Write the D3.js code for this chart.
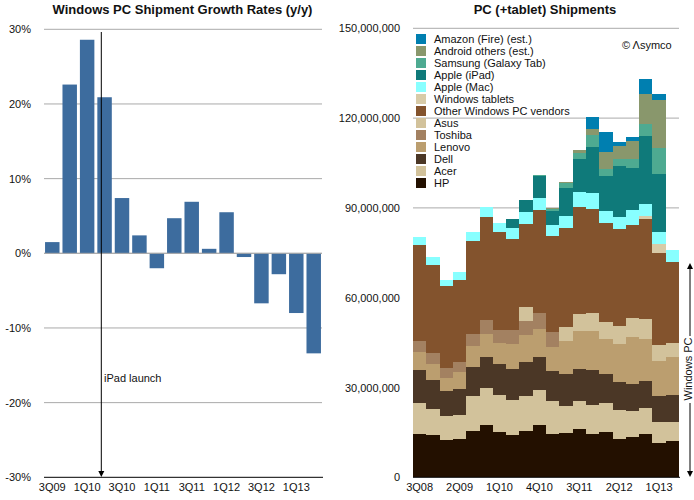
<!DOCTYPE html>
<html><head><meta charset="utf-8">
<script src="https://cdn.jsdelivr.net/npm/d3@7"></script>
<style>
html,body{margin:0;padding:0;background:#fff}
svg{display:block}
text{font-family:"Liberation Sans",Arial,sans-serif;fill:#111}
</style></head><body><svg id="c" width="694" height="500"></svg>
<script>
// Left chart
const growthQuarters = ["3Q09","4Q09","1Q10","2Q10","3Q10","4Q10","1Q11","2Q11","3Q11","4Q11","1Q12","2Q12","3Q12","4Q12","1Q13","2Q13"];
const growthValues = [1.5,22.6,28.6,20.9,7.4,2.4,-2.0,4.7,6.9,0.6,5.5,-0.5,-6.7,-2.8,-8.0,-13.4];
const growthTicks = [30,20,10,0,-10,-20,-30];
const growthLabels = ["3Q09","1Q10","3Q10","1Q11","3Q11","1Q12","3Q12","1Q13"];

// Right chart
const shipQuarters = ["3Q08","4Q08","1Q09","2Q09","3Q09","4Q09","1Q10","2Q10","3Q10","4Q10","1Q11","2Q11","3Q11","4Q11","1Q12","2Q12","3Q12","4Q12","1Q13","2Q13"];
const shipLabels = ["3Q08","2Q09","1Q10","4Q10","3Q11","2Q12","1Q13"];
const shipTicks = [0,30,60,90,120,150];
const HP      = [14.5,14.1,12.5,12.8,15.5,17.5,15.1,14.1,15.5,17.5,14.5,14.8,16.1,14.5,15.1,12.8,13.5,14.5,11.5,12.1];
const Acer    = [10.4,8.7,8.0,8.0,11.7,12.4,12.4,11.7,11.7,11.7,11.0,9.0,9.4,9.7,9.7,9.7,8.7,8.7,7.0,6.3];
const Dell    = [11.0,9.7,8.4,8.7,9.7,10.4,10.4,10.4,11.4,11.0,10.0,10.7,10.7,11.7,9.7,9.4,9.0,9.0,8.7,9.0];
const Lenovo  = [6.0,5.3,4.3,5.7,7.0,7.7,7.0,8.4,9.0,9.4,8.0,11.0,12.7,13.0,11.7,12.7,15.7,14.0,11.7,12.7];
const Toshiba = [3.7,3.7,3.3,3.3,4.0,4.7,4.3,4.7,4.7,5.3,5.0,0,0,0,0,0,0,0,0,0];
const Asus    = [0,0,0,0,0,0,0,0,4.7,0,0,4.7,5.7,6.0,5.7,6.0,6.3,6.7,5.3,4.7];
const OtherPC = [32.1,29.5,27.4,27.4,31.1,34.4,32.8,30.4,27.7,34.4,32.0,33.1,35.7,34.7,33.1,32.4,31.1,33.4,30.7,27.0];
const WinTab  = [0,0,0,0,0,0,0,0,0,0,0,0,0,0,0,0,0,1.0,3.0,0];
const Mac     = [2.7,2.7,2.0,2.7,3.0,3.3,3.0,3.7,4.0,4.0,3.7,4.0,5.0,5.3,4.0,4.0,5.0,4.0,4.0,4.0];
const IPad    = [0,0,0,0,0,0,0,3.0,4.0,7.3,4.7,9.3,11.0,15.4,11.7,17.0,14.0,22.7,19.5,0];
const Samsung = [0,0,0,0,0,0,0,0,0,0.3,0.7,1.7,2.0,4.0,2.3,2.3,3.0,4.0,8.7,0];
const Android = [0,0,0,0,0,0,0,0,0,0,0.3,0.3,1.0,2.0,5.7,4.3,6.0,10.0,16.0,0];
const Amazon  = [0,0,0,0,0,0,0,0,0,0,0,0,0,4.0,6.7,1.3,1.3,5.0,2.0,0];
const seriesNames = ["HP","Acer","Dell","Lenovo","Toshiba","Asus","Other Windows PC vendors","Windows tablets","Apple (Mac)","Apple (iPad)","Samsung (Galaxy Tab)","Android others (est.)","Amazon (Fire) (est.)"];
const seriesValues = [HP,Acer,Dell,Lenovo,Toshiba,Asus,OtherPC,WinTab,Mac,IPad,Samsung,Android,Amazon];
const seriesColors = ["#231000","#d2c29b","#4b3726","#bb9e6f","#a38161","#d2c29b","#83532d","#d8cba8","#88ffff","#0f7a7a","#4eaa91","#89976c","#007fb0"];

const svg = d3.select("#c");
const GRID="#aaaaaa";

function arrow(g,x,y,dir){ // dir 1 = down, -1 = up
  g.append("path").attr("d",d3.line()([[x-3,y-dir*6],[x+3,y-dir*6],[x,y]])+"Z").attr("fill","#000");
}

// LEFT
{
  const x=d3.scaleBand().domain(growthQuarters).range([44,322]).paddingInner(0.17).paddingOuter(0.06);
  const y=d3.scaleLinear().domain([-30,30]).range([477.3,29.3]);
  const g=svg.append("g");
  const ax=g.append("g").attr("transform","translate(44,0)")
    .call(d3.axisLeft(y).tickValues(growthTicks).tickSize(0).tickPadding(13).tickFormat(d=>d+"%"));
  ax.select(".domain").remove();
  ax.selectAll("text").attr("font-size",11).attr("font-family","Liberation Sans").attr("fill","#111");
  g.append("g").selectAll("line").data(growthTicks.filter(d=>d!==-30)).join("line")
    .attr("x1",44).attr("x2",322).attr("y1",d=>y(d)).attr("y2",d=>y(d)).attr("stroke",GRID).attr("stroke-width",1);
  g.append("g").selectAll("rect").data(growthValues).join("rect")
    .attr("x",(d,i)=>x(growthQuarters[i])).attr("width",x.bandwidth())
    .attr("y",d=>y(Math.max(d,0))).attr("height",d=>Math.abs(y(d)-y(0))).attr("fill","#3d6c9e");
  g.append("line").attr("x1",44).attr("x2",322).attr("y1",y(0)).attr("y2",y(0)).attr("stroke",GRID);
  const bx=d3.axisBottom(x).tickValues(growthLabels).tickSize(0).tickPadding(6);
  const b=g.append("g").attr("transform",`translate(0,${y(-30)})`).call(bx);
  b.select(".domain").attr("stroke","#000").attr("d","M44,0H323");
  b.selectAll("text").attr("font-size",11).attr("font-family","Liberation Sans").attr("fill","#111");
  g.append("line").attr("x1",101.3).attr("x2",101.3).attr("y1",32).attr("y2",472).attr("stroke","#000").attr("stroke-width",1);
  arrow(g,101.3,477,1);
  g.append("text").attr("x",104).attr("y",382).attr("font-size",11).text("iPad launch");
  g.append("text").attr("x",182.5).attr("y",14).attr("text-anchor","middle").attr("font-size",13).attr("font-weight","bold").text("Windows PC Shipment Growth Rates (y/y)");
}

// RIGHT
{
  const x=d3.scaleBand().domain(shipQuarters).range([413,679]);
  const y=d3.scaleLinear().domain([0,150]).range([477.3,28.3]);
  const g=svg.append("g");
  const ax=g.append("g").attr("transform","translate(413,0)")
    .call(d3.axisLeft(y).tickValues(shipTicks).tickSize(0).tickPadding(13).tickFormat(d=>d===0?"0":d3.format(",")(d*1e6)));
  ax.select(".domain").remove();
  ax.selectAll("text").attr("font-size",11).attr("font-family","Liberation Sans").attr("fill","#111");
  g.append("g").selectAll("line").data(shipTicks.filter(d=>d>0)).join("line")
    .attr("x1",413).attr("x2",679).attr("y1",d=>y(d)).attr("y2",d=>y(d)).attr("stroke",GRID);
  const rows=shipQuarters.map((q,i)=>{const r={q};seriesNames.forEach((n,k)=>r[n]=seriesValues[k][i]);return r;});
  const stack=d3.stack().keys(seriesNames)(rows);
  g.append("g").attr("shape-rendering","crispEdges").selectAll("g").data(stack).join("g").attr("fill",(d,i)=>seriesColors[i])
    .selectAll("rect").data(d=>d).join("rect")
    .attr("x",d=>x(d.data.q)).attr("width",x.bandwidth())
    .attr("y",d=>y(d[1])).attr("height",d=>y(d[0])-y(d[1]));
  const b=g.append("g").attr("transform",`translate(0,${y(0)})`).call(d3.axisBottom(x).tickValues(shipLabels).tickSize(0).tickPadding(6));
  b.select(".domain").attr("stroke","#000").attr("d","M413,0H680");
  b.selectAll("text").attr("font-size",11).attr("font-family","Liberation Sans").attr("fill","#111");
  g.append("text").attr("x",545).attr("y",14).attr("text-anchor","middle").attr("font-size",13).attr("font-weight","bold").text("PC (+tablet) Shipments");
  // legend
  const legendOrder=d3.range(seriesNames.length).reverse();
  const lg=g.append("g").selectAll("g").data(legendOrder).join("g").attr("transform",(d,i)=>`translate(416,${34+i*12})`);
  lg.append("rect").attr("width",10).attr("height",10).attr("fill",d=>seriesColors[d]);
  lg.append("text").attr("x",18).attr("y",9).attr("font-size",11).text(d=>seriesNames[d]);
  g.append("text").attr("x",622).attr("y",49).attr("font-size",11).text("© Λsymco");
  // Windows PC bracket
  g.append("line").attr("x1",690).attr("x2",690).attr("y1",268).attr("y2",336).attr("stroke","#000");
  g.append("line").attr("x1",690).attr("x2",690).attr("y1",403).attr("y2",472).attr("stroke","#000");
  arrow(g,690,263,-1);
  arrow(g,690,477,1);
  g.append("text").attr("transform","translate(691.5,369) rotate(-90)").attr("text-anchor","middle").attr("font-size",11).text("Windows PC");
}
</script></body></html>
